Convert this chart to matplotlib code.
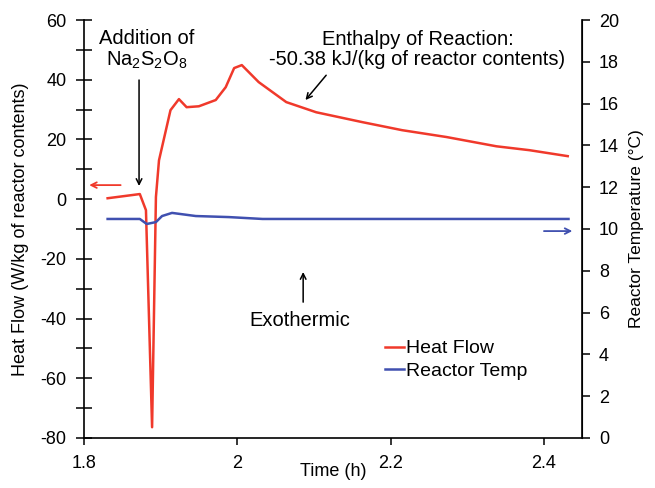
import matplotlib
matplotlib.use("Agg")
import matplotlib.pyplot as plt
from matplotlib.ticker import MultipleLocator

plt.rcParams['font.family'] = ['Liberation Sans', 'DejaVu Sans']
plt.rcParams['mathtext.fontset'] = 'custom'
plt.rcParams['mathtext.rm'] = 'Liberation Sans'
plt.rcParams['mathtext.it'] = 'Liberation Sans'
plt.rcParams['axes.unicode_minus'] = False

# Heat flow series (W/kg of reactor contents)
hf_time = [1.831, 1.873, 1.881, 1.889, 1.894, 1.898, 1.913, 1.924, 1.934, 1.950,
           1.972, 1.985, 1.996, 2.006, 2.028, 2.064, 2.103, 2.163, 2.215, 2.273,
           2.338, 2.381, 2.431]
hf_vals = [0.3, 1.7, -3.7, -76.4, 0.7, 13.0, 29.8, 33.5, 30.8, 31.1,
           33.2, 37.5, 43.9, 44.9, 39.2, 32.5, 29.1, 25.8, 23.1, 20.8,
           17.7, 16.4, 14.4]

# Reactor temperature series (°C)
rt_time = [1.831, 1.873, 1.882, 1.894, 1.902, 1.915, 1.946, 1.989, 2.033, 2.200, 2.432]
rt_vals = [10.48, 10.48, 10.24, 10.33, 10.62, 10.77, 10.62, 10.57, 10.48, 10.48, 10.48]

fig = plt.figure(figsize=(6.55, 4.88), dpi=100)
ax = fig.add_axes([0.128, 0.1025, 0.761, 0.8565])
ax2 = ax.twinx()

red = '#f0392b'
blue = '#4050b0'

l1, = ax.plot(hf_time, hf_vals, color=red, lw=1.8, label='Heat Flow')
l2, = ax2.plot(rt_time, rt_vals, color=blue, lw=1.8, label='Reactor Temp')

ax.set_xlim(1.8, 2.45)
ax.set_ylim(-80, 60)
ax2.set_ylim(0, 20)
ax.set_xticks([1.8, 2.0, 2.2, 2.4])
ax.set_xticklabels(['1.8', '2', '2.2', '2.4'])
ax.yaxis.set_major_locator(MultipleLocator(20))
ax.yaxis.set_minor_locator(MultipleLocator(10))
ax2.yaxis.set_major_locator(MultipleLocator(2))

for a in (ax, ax2):
    a.spines['top'].set_visible(False)
ax.spines['left'].set_linewidth(1.2)
ax.spines['bottom'].set_linewidth(1.2)
ax2.spines['right'].set_linewidth(1.2)
ax2.spines['left'].set_visible(False)
ax2.spines['bottom'].set_visible(False)

ax.tick_params(axis='y', which='major', direction='inout', length=11, width=1.1, labelsize=13, pad=7)
ax.tick_params(axis='y', which='minor', direction='inout', length=11, width=1.1)
ax.tick_params(axis='x', direction='out', length=5, width=1.1, labelsize=13, pad=7)
ax2.tick_params(axis='y', direction='out', length=6, width=1.1, labelsize=13, pad=6)

ax.set_xlabel('Time (h)', fontsize=13, labelpad=-6)
ax.set_ylabel('Heat Flow (W/kg of reactor contents)', fontsize=13, labelpad=8)
ax2.set_ylabel('Reactor Temperature (°C)', fontsize=12.5, labelpad=7)

ap = dict(arrowstyle='->', color='black', lw=1.1, shrinkA=0, shrinkB=0)
ax.text(1.882, 50, 'Addition of\nNa$_2$S$_2$O$_8$', ha='center', va='center', fontsize=14.5, linespacing=1.15)
ax.annotate('', xy=(1.872, 4.4), xytext=(1.872, 39.9), arrowprops=ap)

ax.text(2.235, 50.2, 'Enthalpy of Reaction:\n-50.38 kJ/(kg of reactor contents)', ha='center', va='center',
        fontsize=14.5, linespacing=1.1)
ax.annotate('', xy=(2.089, 33.2), xytext=(2.116, 41.5), arrowprops=ap)

ax.text(2.082, -40.5, 'Exothermic', ha='center', va='center', fontsize=14.5)
ax.annotate('', xy=(2.086, -24.4), xytext=(2.086, -34.5), arrowprops=ap)

ax.annotate('', xy=(1.807, 4.7), xytext=(1.848, 4.7),
            arrowprops=dict(arrowstyle='->', color=red, lw=1.3, shrinkA=0, shrinkB=0))
ax.annotate('', xy=(2.437, -10.7), xytext=(2.400, -10.7),
            arrowprops=dict(arrowstyle='->', color=blue, lw=1.3, shrinkA=0, shrinkB=0))

leg = ax.legend([l1, l2], ['Heat Flow', 'Reactor Temp'], loc='upper left',
                bbox_to_anchor=(0.604, 0.235), frameon=False, fontsize=14,
                handlelength=1.0, handletextpad=0.1, labelspacing=0.25, borderaxespad=0,
                borderpad=0)

fig.savefig('out.png', dpi=100)
